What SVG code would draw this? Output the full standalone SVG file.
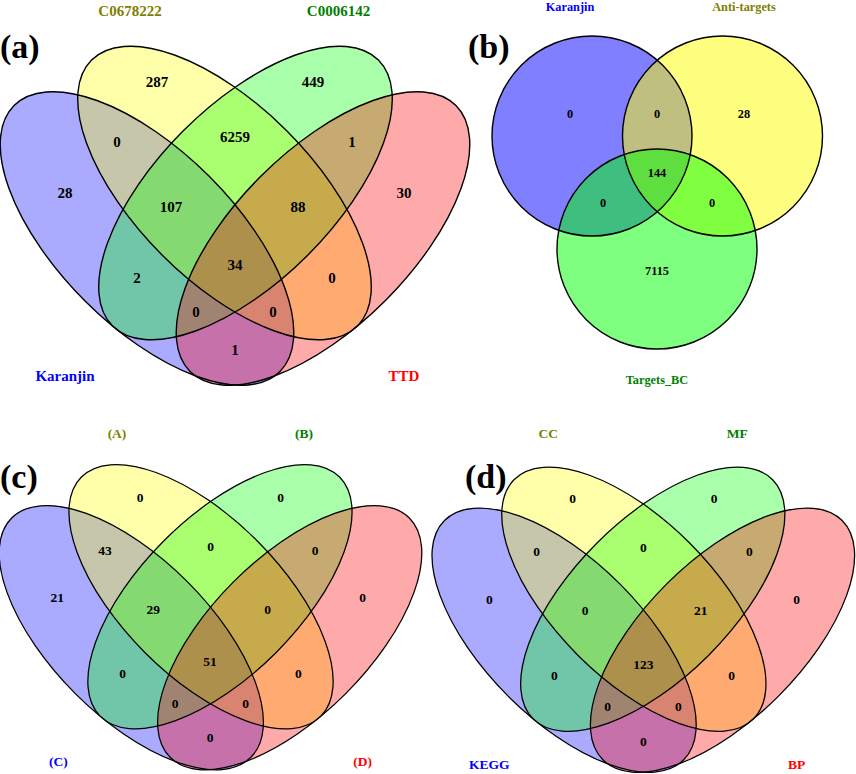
<svg xmlns="http://www.w3.org/2000/svg" xmlns:xlink="http://www.w3.org/1999/xlink" width="856" height="774" viewBox="0 0 856 774">
<style>
.f1{fill:#0000ff;fill-opacity:.333}
.f2{fill:#ffff00;fill-opacity:.333}
.f3{fill:#00ff00;fill-opacity:.333}
.f4{fill:#ff0000;fill-opacity:.333}
.h1{fill:#0000ff;fill-opacity:.5}
.h2{fill:#ffff00;fill-opacity:.5}
.h3{fill:#00ff00;fill-opacity:.5}
.ol{fill:none;stroke:#000;stroke-width:1.4}
text{font-family:"Liberation Serif","Times New Roman",serif;font-weight:bold;text-anchor:middle;fill:#000}
.n{font-size:15px}
.s{font-size:13.5px}
.b{font-size:12.3px}
.p{font-size:34px;text-anchor:start}
.cb{fill:#0000ff}.cy{fill:#808000}.cg{fill:#008000}.cr{fill:#ff0000}
</style>
<defs>
<ellipse id="q1" cx="0" cy="0" rx="188" ry="88" transform="translate(-88,33.5) rotate(45)"/>
<ellipse id="q2" cx="0" cy="0" rx="188" ry="88" transform="translate(-10.5,-12) rotate(45)"/>
<ellipse id="q3" cx="0" cy="0" rx="188" ry="88" transform="translate(10.5,-12) rotate(-45)"/>
<ellipse id="q4" cx="0" cy="0" rx="188" ry="88" transform="translate(88,33.5) rotate(-45)"/>
<g id="quadLine" class="ol">
<use xlink:href="#q1"/>
<use xlink:href="#q2"/>
<use xlink:href="#q3"/>
<use xlink:href="#q4"/>
</g>
</defs>
<rect width="856" height="774" fill="#fff"/>

<!-- Panel (a) -->
<g id="panel-a">
<g id="a-sets" transform="translate(235,205)">
<g id="a-karanjin"><use xlink:href="#q1" class="f1"/></g>
<g id="a-c0678222"><use xlink:href="#q2" class="f2"/></g>
<g id="a-c0006142"><use xlink:href="#q3" class="f3"/></g>
<g id="a-ttd"><use xlink:href="#q4" class="f4"/></g>
<use xlink:href="#quadLine"/>
</g>
<g id="a-labels">
<text class="p" x="0" y="58">(a)</text>
<text class="n cy" x="130" y="16">C0678222</text>
<text class="n cg" x="338.5" y="16">C0006142</text>
<text class="n cb" x="65" y="381">Karanjin</text>
<text class="n cr" x="404" y="381">TTD</text>
<text class="n" x="157" y="87">287</text>
<text class="n" x="313" y="87">449</text>
<text class="n" x="117" y="147">0</text>
<text class="n" x="235" y="142">6259</text>
<text class="n" x="352" y="147">1</text>
<text class="n" x="65" y="198">28</text>
<text class="n" x="171" y="212">107</text>
<text class="n" x="298" y="212">88</text>
<text class="n" x="404" y="198">30</text>
<text class="n" x="235" y="270">34</text>
<text class="n" x="137" y="283">2</text>
<text class="n" x="332" y="283">0</text>
<text class="n" x="196" y="317">0</text>
<text class="n" x="273" y="317">0</text>
<text class="n" x="235" y="355">1</text>
</g>
</g>

<!-- Panel (b) -->
<g id="panel-b">
<g id="b-sets">
<g id="b-karanjin"><circle cx="592" cy="136" r="100" class="h1"/></g>
<g id="b-antitargets"><circle cx="722.5" cy="136" r="100" class="h2"/></g>
<g id="b-targets-bc"><circle cx="657" cy="249" r="100" class="h3"/></g>
<g class="ol">
<circle cx="592" cy="136" r="100"/>
<circle cx="722.5" cy="136" r="100"/>
<circle cx="657" cy="249" r="100"/>
</g>
</g>
<g id="b-labels">
<text class="p" x="468" y="58">(b)</text>
<text class="b cb" x="570" y="10.5">Karanjin</text>
<text class="b cy" x="744" y="10.5">Anti-targets</text>
<text class="b cg" x="657" y="384">Targets_BC</text>
<text class="b" x="570" y="118">0</text>
<text class="b" x="657" y="118">0</text>
<text class="b" x="744" y="118">28</text>
<text class="b" x="657" y="177">144</text>
<text class="b" x="603" y="207">0</text>
<text class="b" x="712" y="207">0</text>
<text class="b" x="657" y="275">7115</text>
</g>
</g>

<!-- Panel (c) -->
<g id="panel-c">
<g id="c-sets" transform="translate(210.5,607.5) scale(0.9)">
<g id="c-set-c"><use xlink:href="#q1" class="f1"/></g>
<g id="c-set-a"><use xlink:href="#q2" class="f2"/></g>
<g id="c-set-b"><use xlink:href="#q3" class="f3"/></g>
<g id="c-set-d"><use xlink:href="#q4" class="f4"/></g>
<use xlink:href="#quadLine"/>
</g>
<g id="c-labels">
<text class="p" x="0" y="488">(c)</text>
<text class="s cy" x="117" y="437.5">(A)</text>
<text class="s cg" x="304" y="437.5">(B)</text>
<text class="s cb" x="58.3" y="766">(C)</text>
<text class="s cr" x="362.7" y="766">(D)</text>
<text class="s" x="140" y="501.8">0</text>
<text class="s" x="280.7" y="501.8">0</text>
<text class="s" x="105" y="554.5">43</text>
<text class="s" x="210.7" y="551.2">0</text>
<text class="s" x="315" y="554.5">0</text>
<text class="s" x="57.3" y="601.8">21</text>
<text class="s" x="153.3" y="613.5">29</text>
<text class="s" x="267.7" y="613.5">0</text>
<text class="s" x="362.7" y="601.8">0</text>
<text class="s" x="210" y="666.2">51</text>
<text class="s" x="122.7" y="677.8">0</text>
<text class="s" x="298.3" y="677.8">0</text>
<text class="s" x="175" y="707.8">0</text>
<text class="s" x="245.7" y="707.8">0</text>
<text class="s" x="210" y="742.2">0</text>
</g>
</g>

<!-- Panel (d) -->
<g id="panel-d">
<g id="d-sets" transform="translate(643.3,610) scale(0.9)">
<g id="d-kegg"><use xlink:href="#q1" class="f1"/></g>
<g id="d-cc"><use xlink:href="#q2" class="f2"/></g>
<g id="d-mf"><use xlink:href="#q3" class="f3"/></g>
<g id="d-bp"><use xlink:href="#q4" class="f4"/></g>
<use xlink:href="#quadLine"/>
</g>
<g id="d-labels">
<text class="p" x="465" y="488">(d)</text>
<text class="s cy" x="548.3" y="438">CC</text>
<text class="s cg" x="737.3" y="438">MF</text>
<text class="s cb" x="489.3" y="769">KEGG</text>
<text class="s cr" x="796.7" y="769">BP</text>
<text class="s" x="572.7" y="502.8">0</text>
<text class="s" x="714" y="502.8">0</text>
<text class="s" x="536.7" y="556.2">0</text>
<text class="s" x="643.3" y="552.2">0</text>
<text class="s" x="749.3" y="556.2">0</text>
<text class="s" x="489.3" y="603.5">0</text>
<text class="s" x="585" y="615.2">0</text>
<text class="s" x="700.7" y="615.2">21</text>
<text class="s" x="796.7" y="603.5">0</text>
<text class="s" x="643.3" y="668.8">123</text>
<text class="s" x="554.3" y="680.2">0</text>
<text class="s" x="731.7" y="680.2">0</text>
<text class="s" x="607.7" y="711.2">0</text>
<text class="s" x="678.3" y="711.2">0</text>
<text class="s" x="643.3" y="745.5">0</text>
</g>
</g>
<g id="connectors"/>
</svg>
